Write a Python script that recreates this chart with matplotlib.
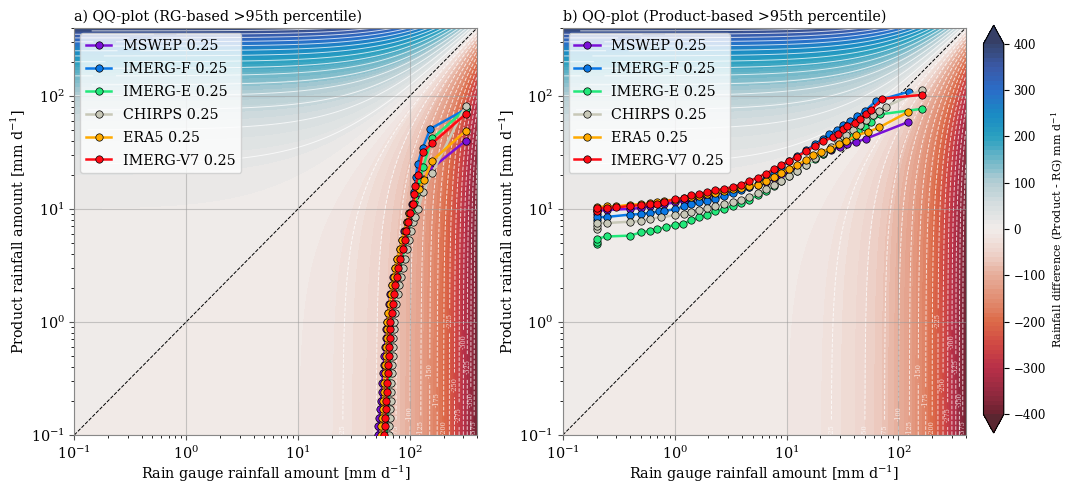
import numpy as np
import matplotlib
matplotlib.use("Agg")
import matplotlib.pyplot as plt
from matplotlib.colors import LinearSegmentedColormap

plt.rcParams['font.family'] = ['DejaVu Serif']
plt.rcParams['mathtext.fontset'] = 'dejavuserif'

# ---------------- data ----------------
series_names = ["MSWEP 0.25", "IMERG-F 0.25", "IMERG-E 0.25", "CHIRPS 0.25", "ERA5 0.25", "IMERG-V7 0.25"]
series_colors = ["#7a10d8", "#0a78e6", "#22e87a", "#c8c8b8", "#ffaa00", "#ff0a14"]

# Panel a: RG-based >95th percentile (x = rain gauge, y = product)
a_mswep_x = [51.5, 52.3, 53.2, 54.2, 55, 55.8, 56.6, 57.4, 58.3, 59, 59.8, 60.5, 61.3, 62, 63.5, 65, 67, 69, 71, 73.5, 77, 81, 85, 89, 94, 99, 105, 112, 121, 134, 155, 315]
a_mswep_y = [0.1, 0.12, 0.14, 0.17, 0.2, 0.24, 0.29, 0.35, 0.42, 0.5, 0.6, 0.72, 0.86, 1.0, 1.2, 1.45, 1.75, 2.1, 2.5, 3.0, 3.6, 4.4, 5.3, 6.4, 7.7, 9.2, 11, 13, 15.5, 18.5, 22.7, 40]
a_imergf_x = [60, 60.6, 61.2, 61.8, 62.4, 63, 63.6, 64.2, 64.9, 65.6, 66.3, 67, 67.7, 68.5, 70, 71.5, 73.5, 75.5, 78, 80.5, 84, 88, 92, 95.5, 99, 102.5, 106, 109, 113, 117, 130, 152, 315]
a_imergf_y = [0.1, 0.12, 0.14, 0.17, 0.2, 0.24, 0.29, 0.35, 0.42, 0.5, 0.6, 0.72, 0.86, 1.0, 1.2, 1.45, 1.75, 2.1, 2.5, 3.0, 3.6, 4.4, 5.3, 6.4, 7.7, 9.2, 11, 14, 19, 25, 34.5, 51, 76]
a_imerge_x = [62, 62.7, 63.4, 64, 64.6, 65.2, 65.8, 66.4, 67, 67.6, 68.2, 68.8, 69.4, 70, 71.5, 73, 75, 77.5, 80, 83, 87, 91, 95, 99, 103, 107, 112, 118, 124, 131, 158, 315]
a_imerge_y = [0.1, 0.12, 0.14, 0.17, 0.2, 0.24, 0.29, 0.35, 0.42, 0.5, 0.6, 0.72, 0.86, 1.0, 1.2, 1.45, 1.75, 2.1, 2.5, 3.0, 3.6, 4.4, 5.3, 6.4, 7.7, 9.2, 11, 14, 18, 23.5, 42, 76]
a_chirps_x = [65, 65.5, 66, 66.6, 67.2, 67.8, 68.4, 69, 69.6, 70.1, 70.6, 71.1, 71.6, 72.2, 73.8, 75.5, 77.5, 80, 83, 86, 89.5, 94, 98, 102, 107, 112, 119, 130, 158, 315]
a_chirps_y = [0.1, 0.12, 0.14, 0.17, 0.2, 0.24, 0.29, 0.35, 0.42, 0.5, 0.6, 0.72, 0.86, 1.0, 1.2, 1.45, 1.75, 2.1, 2.5, 3.0, 3.6, 4.4, 5.3, 6.4, 7.7, 8.5, 10, 14, 20.8, 81.5]
a_era5_x = [55, 55.6, 56.2, 56.9, 57.5, 58.1, 58.7, 59.3, 60, 60.6, 61.2, 61.8, 62.4, 63, 64.3, 65.7, 67.4, 69.3, 71.3, 73.6, 77, 81, 85, 89.5, 94, 99, 106, 120, 134, 158, 315]
a_era5_y = [0.1, 0.12, 0.14, 0.17, 0.2, 0.24, 0.29, 0.35, 0.42, 0.5, 0.6, 0.72, 0.86, 1.0, 1.2, 1.45, 1.75, 2.1, 2.5, 3.0, 3.6, 4.4, 5.3, 6.4, 7.7, 9.2, 11, 15, 18, 26.7, 49]
a_imergv7_x = [59, 59.6, 60.2, 60.8, 61.4, 62, 62.6, 63.2, 63.9, 64.6, 65.2, 65.8, 66.3, 67, 68.5, 70, 72, 74, 76, 78.5, 82, 86, 89.5, 93, 97, 101, 107, 109, 112, 119, 130, 158, 315]
a_imergv7_y = [0.1, 0.12, 0.14, 0.17, 0.2, 0.24, 0.29, 0.35, 0.42, 0.5, 0.6, 0.72, 0.86, 1.0, 1.2, 1.45, 1.75, 2.1, 2.5, 3.0, 3.6, 4.4, 5.3, 6.4, 7.7, 9.2, 11, 13.5, 16, 20, 31.8, 38, 69]

# Panel b: Product-based >95th percentile
b_mswep_x = [0.2, 0.2, 0.25, 0.4, 0.5, 0.6, 0.8, 1.0, 1.2, 1.4, 1.65, 1.95, 2.3, 2.75, 3.3, 3.9, 4.6, 5.5, 6.5, 7.7, 9, 10.5, 12.5, 15, 18, 21, 25, 30, 35, 41.9, 51, 121]
b_mswep_y = [9.0, 9.6, 9.8, 10.0, 10.2, 10.5, 11.0, 11.4, 11.8, 12.2, 12.6, 13.0, 13.5, 14.0, 14.5, 15.0, 15.7, 16.4, 17.4, 18.6, 19.9, 21.4, 23.2, 25.5, 28, 30.5, 33, 35.5, 37.5, 39, 41.7, 58.4]
b_imergf_x = [0.2, 0.2, 0.25, 0.4, 0.5, 0.6, 0.72, 0.8, 1.0, 1.2, 1.4, 1.65, 1.95, 2.3, 2.75, 3.3, 3.9, 4.6, 5.5, 6.5, 7.7, 9, 10.5, 12.5, 15, 18, 21, 24, 28, 32, 37, 43, 50, 63, 125]
b_imergf_y = [7.9, 8.4, 8.5, 8.9, 9.0, 9.2, 9.5, 9.6, 9.9, 10.5, 11, 11.4, 11.7, 12.3, 12.9, 13.7, 14.6, 15.6, 16.7, 18.5, 20.8, 23.5, 26.5, 29.5, 33, 37.5, 41.5, 46, 50, 55, 60, 66, 73, 90, 109]
b_imerge_x = [0.2, 0.2, 0.2, 0.25, 0.4, 0.5, 0.6, 0.7, 0.83, 1.0, 1.18, 1.4, 1.65, 1.95, 2.3, 2.75, 3.3, 3.9, 4.6, 5.5, 6.5, 7.7, 9, 10.5, 12.5, 15, 18, 21, 25, 29, 34, 39, 43.5, 50, 57, 69, 162]
b_imerge_y = [4.9, 5.1, 5.45, 5.7, 5.8, 6.2, 6.4, 6.6, 6.9, 7.2, 7.4, 7.9, 8.4, 8.9, 9.5, 10.0, 10.6, 11.2, 12, 13.2, 14.5, 16, 17.7, 19.5, 21.8, 24.5, 27.5, 30.5, 34, 37.5, 41.5, 44, 48.7, 53, 58.6, 68.6, 76.7]
b_chirps_x = [0.2, 0.2, 0.2, 0.25, 0.4, 0.5, 0.6, 0.75, 1.0, 1.2, 1.4, 1.65, 1.95, 2.3, 2.75, 3.3, 3.9, 4.6, 5.5, 6.5, 7.7, 9, 10.5, 12.5, 15, 18, 21, 25, 29, 34, 39, 45, 51, 59, 67.6, 77, 162]
b_chirps_y = [6.6, 7.0, 7.5, 7.5, 7.7, 7.8, 8.2, 8.4, 8.8, 9.0, 9.4, 9.7, 10.1, 10.5, 11, 11.5, 12.1, 12.8, 13.8, 15, 16.3, 17.8, 19.5, 21.5, 24.5, 28, 31.5, 35.5, 40, 45, 49.5, 55, 61, 67, 74, 80, 113]
b_era5_x = [0.2, 0.2, 0.25, 0.3, 0.4, 0.5, 0.6, 0.7, 0.8, 1.0, 1.2, 1.4, 1.65, 1.95, 2.3, 2.75, 3.3, 3.9, 4.6, 5.5, 6.5, 7.7, 9, 10.5, 12.5, 15, 17.2, 20.5, 24.2, 29.7, 34, 41.9, 53, 67.6, 121]
b_era5_y = [9.8, 10.4, 10.5, 10.5, 10.9, 11.0, 11.2, 11.5, 11.8, 12.1, 12.4, 12.8, 13.1, 13.4, 13.9, 14.4, 14.9, 15.4, 15.9, 16.4, 17.6, 19.2, 20.8, 22.5, 24.5, 27.3, 29.7, 32, 34, 37.7, 39.5, 44.7, 47.6, 52.7, 71.6]
b_imergv7_x = [0.2, 0.2, 0.25, 0.3, 0.4, 0.5, 0.6, 0.7, 0.8, 1.0, 1.2, 1.4, 1.65, 1.95, 2.3, 2.75, 3.3, 3.9, 4.6, 5.5, 6.5, 7.7, 9, 10.5, 12.5, 15, 18, 21, 26, 29, 32, 35, 40.5, 45, 51, 57, 71.5, 162]
b_imergv7_y = [9.6, 10.1, 10.2, 10.3, 10.6, 10.8, 11, 11.1, 11.4, 12.2, 12.5, 13.2, 13.4, 14.1, 14.6, 15, 15.6, 16.4, 17.5, 18.9, 20.5, 22.3, 24.5, 26.5, 29, 32.5, 36, 39.5, 43, 46, 51, 54.6, 58, 62.5, 69, 75, 94, 102]

panel_a = [(a_mswep_x, a_mswep_y), (a_imergf_x, a_imergf_y), (a_imerge_x, a_imerge_y),
           (a_chirps_x, a_chirps_y), (a_era5_x, a_era5_y), (a_imergv7_x, a_imergv7_y)]
panel_b = [(b_mswep_x, b_mswep_y), (b_imergf_x, b_imergf_y), (b_imerge_x, b_imerge_y),
           (b_chirps_x, b_chirps_y), (b_era5_x, b_era5_y), (b_imergv7_x, b_imergv7_y)]

titles = ["a) QQ-plot (RG-based >95th percentile)", "b) QQ-plot (Product-based >95th percentile)"]
cbar_ticks = [-400, -300, -200, -100, 0, 100, 200, 300, 400]

# ---------------- style ----------------
cmap_colors = ["#6a2230", "#962a40", "#b83048", "#d04844", "#dc6a48", "#e28f74", "#e6ad9a",
               "#eed4cc", "#f1ecea", "#d8dfe0", "#b5ced4", "#6fb7c8", "#2aa0c0", "#1a8ac4",
               "#2a6dc8", "#3a5aa8", "#36456e"]
cmap = LinearSegmentedColormap.from_list("diff", cmap_colors, N=256)
cmap.set_over("#363f66")
cmap.set_under("#5a2630")

fill_levels = np.arange(-400, 401, 10)
line_levels = [l for l in range(-400, 401, 25) if l != 0]

FS = 10.3
fig = plt.figure(figsize=(10.69, 4.82), dpi=100)
axes = [fig.add_axes([0.0695, 0.0975, 0.377, 0.845]),
        fig.add_axes([0.5265, 0.0975, 0.377, 0.845])]
cax = fig.add_axes([0.92, 0.1017, 0.019, 0.846])

gx = np.logspace(-1, np.log10(400), 400)
GX, GY = np.meshgrid(gx, gx)
GZ = GY - GX

cf = None
for ax, data, title in zip(axes, [panel_a, panel_b], titles):
    ax.set_xscale("log")
    ax.set_yscale("log")
    cf = ax.contourf(GX, GY, GZ, levels=fill_levels, cmap=cmap, extend="both", zorder=0)
    cl = ax.contour(GX, GY, GZ, levels=line_levels, colors="white", linewidths=0.7, alpha=0.75, zorder=0.5)
    labels = ax.clabel(cl, fmt="%d", fontsize=4.8, colors="white", inline=True)
    for t in list(labels):
        lx, ly = t.get_position()
        if lx < 4.0 and ly > 16:
            t.remove()
    ax.plot([0.1, 400], [0.1, 400], ls="--", color="black", lw=0.7, zorder=1.8)
    for (xs, ys), name, col in zip(data, series_names, series_colors):
        ax.plot(xs, ys, "-o", color=col, lw=1.8, ms=5.3, mec="black", mew=0.5, label=name, zorder=3)
    ax.set_xlim(0.1, 400)
    ax.set_ylim(0.1, 400)
    ax.grid(True, which="major", color="#999999", lw=0.8, alpha=0.5)
    ax.set_title(title, loc="left", fontsize=FS, pad=5)
    ax.set_xlabel("Rain gauge rainfall amount [mm d$^{-1}$]", fontsize=FS, labelpad=1)
    ax.set_ylabel("Product rainfall amount [mm d$^{-1}$]", fontsize=FS, labelpad=2)
    ax.tick_params(labelsize=FS, color="#555555")
    for s in ax.spines.values():
        s.set_color("#888888")
    leg = ax.legend(loc="upper left", fontsize=FS, handlelength=1.8, framealpha=0.8,
                    edgecolor="#cccccc", borderaxespad=0.4, labelspacing=0.62)
    leg.set_zorder(10)

cb = fig.colorbar(cf, cax=cax, ticks=cbar_ticks, extend="both")
cb.set_label("Rainfall difference (Product - RG) mm d$^{-1}$", fontsize=8, labelpad=3)
cb.ax.tick_params(labelsize=8.5)

fig.savefig("out.png", dpi=100)
